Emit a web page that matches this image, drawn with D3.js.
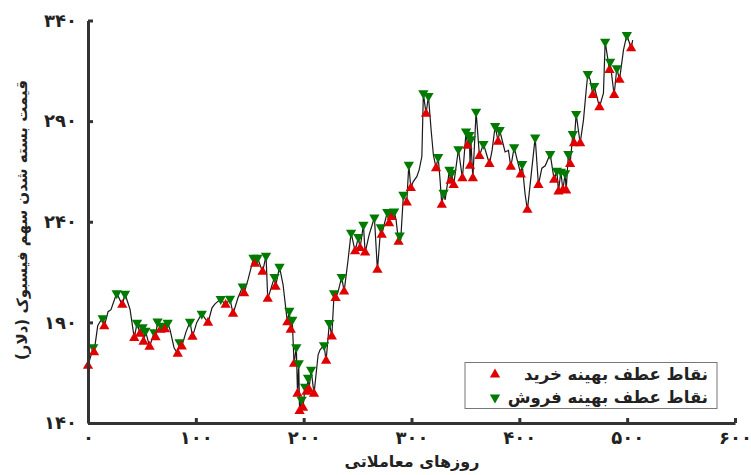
<!DOCTYPE html>
<html>
<head>
<meta charset="utf-8">
<script src="https://cdn.jsdelivr.net/npm/d3@7"></script>
<style>
  body { margin: 0; background: #fff; }
  text { font-family: "DejaVu Sans", sans-serif; font-weight: bold; fill: #222; }
</style>
</head>
<body>
<svg width="751" height="475"></svg>
<script>
// trading day of each turning / line point
var days = [0, 4.9, 5.6, 9.0, 11.1, 13.6, 15.1, 18.6, 21.3, 26.6, 31.8, 34.3, 39.0, 42.9, 45.5, 48.2, 50.6, 51.5, 53.3, 57.1,
  61.5, 62.6, 64.5, 67.3, 68.6, 71.4, 73.9, 76.1, 79.8, 83.2, 84.9, 86.9, 90.9, 94.6, 96.9, 100.9, 105.5, 111.3, 115.0, 117.8,
  123.1, 127.6, 131.7, 134.5, 139.1, 143.5, 144.7, 148.4, 151.9, 153.5, 154.9, 157.2, 161.9, 165.1, 166.7, 173.0, 173.9, 177.6, 180.9, 184.9,
  186.7, 188.0, 189.4, 191.1, 193.2, 194.3, 195.4, 196.2, 198.1, 199.4, 201.3, 202.7, 204.1, 205.0, 206.9, 209.6, 213.4, 215.2, 218.9, 220.8,
  223.8, 226.1, 228.2, 229.6, 231.9, 235.3, 237.5, 241.2, 244.0, 247.7, 250.7, 252.3, 255.4, 257.0, 260.7, 265.6, 268.4, 271.5, 272.4, 274.6,
  277.6, 279.2, 280.6, 281.7, 283.9, 285.7, 288.0, 289.0, 290.0, 292.5, 295.6, 297.5, 299.4, 301.5, 304.9, 307.1, 309.6, 311.0, 313.5, 315.7,
  318.2, 320.3, 322.8, 324.7, 326.5, 328.1, 329.8, 331.2, 335.2, 336.3, 337.2, 339.1, 343.5, 347.2, 350.6, 351.9, 353.7, 354.3, 355.0, 356.9,
  359.9, 363.0, 366.7, 372.3, 374.8, 377.6, 380.3, 381.7, 386.8, 389.9, 392.1, 395.2, 398.0, 401.4, 402.6, 405.4, 407.5, 414.7, 417.7, 420.9,
  424.0, 428.6, 432.3, 434.8, 436.3, 438.5, 440.4, 442.5, 443.4, 445.5, 447.1, 449.6, 450.8, 452.7, 456.4, 459.5, 462.0, 463.5, 465.7, 468.2,
  469.4, 474.3, 478.0, 479.6, 483.6, 484.2, 487.9, 490.4, 492.9, 496.6, 499.7, 503.7, 505.1];

// closing price (dollars)
var closePrices = [168.4, 177.7, 175.1, 188.3, 190.3, 192.1, 188.0, 195.3, 196.3, 204.5, 198.7, 204.2, 196.4, 182.2, 189.8, 184.3, 187.6, 180.4, 185.8, 177.9,
  185.1, 182.6, 190.4, 186.3, 188.3, 186.6, 189.8, 186.3, 177.4, 174.4, 180.1, 178.0, 185.3, 190.3, 182.9, 190.0, 194.3, 189.8, 197.2, 199.2,
  201.6, 198.7, 201.7, 194.3, 202.2, 207.8, 204.5, 211.2, 218.6, 222.1, 219.1, 222.1, 215.1, 223.1, 201.7, 212.6, 207.7, 217.6, 208.7, 190.0,
  195.8, 186.3, 191.3, 169.4, 177.7, 154.5, 169.7, 145.9, 151.6, 147.6, 158.0, 155.5, 162.5, 156.5, 166.5, 154.5, 173.9, 176.4, 178.7, 170.9,
  189.7, 183.0, 204.5, 202.1, 205.2, 212.6, 205.3, 221.1, 234.6, 225.3, 232.4, 226.9, 238.5, 224.7, 233.5, 242.1, 216.1, 237.3, 233.5, 238.5,
  244.8, 239.3, 244.4, 242.4, 245.1, 240.9, 230.0, 233.2, 231.0, 253.4, 249.5, 268.3, 256.7, 259.8, 262.4, 265.8, 272.4, 303.9, 293.6, 302.5,
  285.6, 273.2, 266.6, 272.2, 260.8, 248.4, 254.4, 250.9, 265.8, 260.3, 264.3, 258.3, 276.0, 261.6, 284.8, 277.7, 283.1, 267.8, 281.0, 261.6,
  294.7, 272.7, 278.7, 268.7, 275.7, 287.6, 279.8, 285.6, 274.7, 275.5, 267.3, 277.0, 270.7, 263.5, 268.7, 253.4, 245.9, 281.9, 258.3, 266.6,
  267.8, 273.7, 260.8, 265.4, 255.0, 264.9, 255.8, 264.1, 255.5, 273.7, 268.7, 283.6, 279.0, 293.6, 279.0, 290.6, 305.5, 313.4, 310.5, 303.0,
  307.5, 296.9, 303.9, 329.5, 315.4, 319.5, 303.0, 316.3, 310.5, 325.4, 332.8, 326.2, 330.3];

// optimal turning points: B = buy, S = sell, '' = plain
var signals = ['B', 'S', 'B', '', '', 'S', 'B', '', '', 'S', 'B', 'S', '', 'B', 'S', 'B', 'S', 'B', 'S', 'B',
  'S', 'B', 'S', 'B', 'S', 'B', 'S', '', '', 'B', 'S', 'B', '', 'S', 'B', '', 'S', 'B', '', '',
  'S', 'B', 'S', 'B', '', 'S', 'B', '', '', 'S', 'B', 'S', 'B', 'S', 'B', 'S', 'B', 'S', '', 'B',
  'S', 'B', 'S', 'B', 'S', 'B', 'S', 'B', 'S', 'B', 'S', 'B', 'S', 'B', 'S', 'B', '', '', 'S', 'B',
  'S', 'B', 'S', 'B', '', 'S', 'B', '', 'S', 'B', 'S', 'B', 'S', 'B', '', 'S', 'B', 'S', 'B', '',
  'S', 'B', 'S', 'B', 'S', '', 'B', 'S', '', 'S', 'B', 'S', 'B', '', '', '', '', 'S', 'B', 'S',
  '', '', 'B', 'S', '', 'B', 'S', '', 'S', 'B', 'S', 'B', 'S', 'B', 'S', 'B', 'S', 'B', 'S', 'B',
  'S', 'B', 'S', 'B', '', 'S', 'B', 'S', '', '', 'B', 'S', '', 'B', 'S', '', 'B', 'S', 'B', '',
  '', 'S', 'B', 'S', 'B', 'S', 'B', 'S', 'B', 'S', 'B', 'S', 'B', 'S', 'B', '', '', 'S', '', 'B',
  'S', 'B', '', 'S', 'B', 'S', 'B', 'S', 'B', '', 'S', 'B', ''];

var xTicks = [0, 100, 200, 300, 400, 500, 600];
var xTickLabels = ['۰', '۱۰۰', '۲۰۰', '۳۰۰', '۴۰۰', '۵۰۰', '۶۰۰'];
var yTicks = [140, 190, 240, 290, 340];
var yTickLabels = ['۱۴۰', '۱۹۰', '۲۴۰', '۲۹۰', '۳۴۰'];

var legendLabels = ['نقاط عطف بهینه خرید', 'نقاط عطف بهینه فروش'];
var xTitle = 'روزهای معاملاتی';
var yTitle = 'قیمت بسته شدن سهم فیسبوک (دلار)';

var data = days.map(function (d, i) {
  return { day: d, price: closePrices[i], sig: signals[i] };
});

var svg = d3.select('svg');
var width = +svg.attr('width');
var height = +svg.attr('height');
var margin = { top: 20.5, left: 88, bottom: 52, right: 16 };

var x = d3.scaleLinear().domain([0, 600]).range([margin.left, width - margin.right]);
var y = d3.scaleLinear().domain([140, 340]).range([height - margin.bottom, margin.top]);

var red = '#e00000';
var green = '#007a00';

// price line
svg.append('path')
  .datum(data)
  .attr('fill', 'none')
  .attr('stroke', '#1a1a1a')
  .attr('stroke-width', 1.2)
  .attr('d', d3.line().x(function (d) { return x(d.day); }).y(function (d) { return y(d.price); }));

// markers
var tri = d3.symbol().type(d3.symbolTriangle).size(46);
svg.append('g').selectAll('path')
  .data(data.filter(function (d) { return d.sig !== ''; }))
  .join('path')
  .attr('d', tri)
  .attr('fill', function (d) { return d.sig === 'B' ? red : green; })
  .attr('transform', function (d) {
    return 'translate(' + x(d.day) + ',' + y(d.price) + ')' + (d.sig === 'S' ? ' rotate(180)' : '');
  });

// axes
var xAxis = svg.append('g')
  .attr('transform', 'translate(0,' + y(140) + ')')
  .call(d3.axisBottom(x).tickValues(xTicks)
    .tickFormat(function (d, i) { return xTickLabels[i]; })
    .tickSizeInner(-5).tickSizeOuter(0).tickPadding(8));

var yAxis = svg.append('g')
  .attr('transform', 'translate(' + x(0) + ',0)')
  .call(d3.axisLeft(y).tickValues(yTicks)
    .tickFormat(function (d, i) { return yTickLabels[i]; })
    .tickSizeInner(-5).tickSizeOuter(0).tickPadding(11));

[xAxis, yAxis].forEach(function (g) {
  g.select('.domain').attr('stroke', '#333').attr('stroke-width', 3);
  g.selectAll('.tick line').attr('stroke', '#333').attr('stroke-width', 3);
  g.selectAll('.tick text').attr('font-size', 18).attr('font-family', '"DejaVu Sans", sans-serif')
    .attr('font-weight', 'bold').attr('fill', '#222');
});

// titles
svg.append('text')
  .attr('x', 412).attr('y', 467)
  .attr('text-anchor', 'middle')
  .attr('direction', 'rtl')
  .attr('font-size', 16)
  .text(xTitle);

svg.append('text')
  .attr('transform', 'translate(27,220) rotate(-90)')
  .attr('text-anchor', 'middle')
  .attr('direction', 'rtl')
  .attr('font-size', 15)
  .text(yTitle);

// legend
var legend = svg.append('g');
legend.append('rect')
  .attr('x', 465).attr('y', 362.5)
  .attr('width', 252).attr('height', 46)
  .attr('fill', '#fff')
  .attr('stroke', '#777')
  .attr('stroke-width', 1);

legendLabels.forEach(function (label, i) {
  var cy = 374.5 + i * 23;
  legend.append('path')
    .attr('d', tri)
    .attr('fill', i === 0 ? red : green)
    .attr('transform', 'translate(495,' + cy + ')' + (i === 1 ? ' rotate(180)' : ''));
  legend.append('text')
    .attr('x', 708).attr('y', cy)
    .attr('dy', '0.35em')
    .attr('text-anchor', 'end')
    .attr('font-size', 16.5)
    .text(label);
});
</script>
</body>
</html>
